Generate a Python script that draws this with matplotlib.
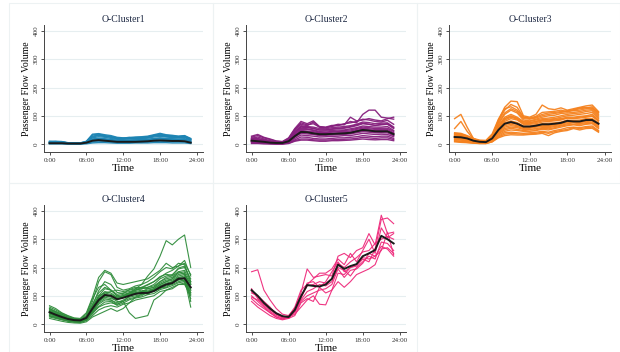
import matplotlib
matplotlib.use("Agg")
import matplotlib.pyplot as plt
from matplotlib.patches import Rectangle

plt.rcParams['font.family'] = ['Liberation Serif', 'DejaVu Serif']

hours = list(range(24))
xtick_pos = [0, 6, 12, 18, 24]
xtick_labels = ['0:00', '06:00', '12:00', '18:00', '24:00']
ytick_pos = [0, 100, 200, 300, 400]

titles = ['O-Cluster1', 'O-Cluster2', 'O-Cluster3', 'O-Cluster4', 'O-Cluster5']
colors = ['#1d84b3', '#86207e', '#f5821f', '#2f8c3b', '#ee2a7b']

# cluster 1 (blue)
c1_lines = [
    [10, 10, 9, 5, 4, 4, 10, 35, 37, 33, 30, 24, 22, 22, 25, 26, 28, 33, 38, 33, 31, 28, 30, 20],
    [8, 9, 7, 4, 3, 3, 8, 28, 32, 28, 25, 20, 20, 21, 22, 22, 25, 30, 32, 29, 27, 25, 27, 18],
    [6, 7, 6, 3, 3, 3, 7, 22, 26, 24, 20, 17, 17, 18, 18, 19, 21, 25, 27, 25, 23, 22, 23, 14],
    [5, 5, 5, 3, 2, 2, 6, 18, 21, 19, 16, 14, 14, 14, 15, 16, 17, 20, 22, 20, 19, 18, 19, 11],
    [4, 4, 4, 2, 2, 2, 5, 14, 16, 15, 13, 11, 11, 11, 12, 12, 14, 16, 18, 16, 15, 14, 15, 9],
    [3, 3, 3, 2, 1, 1, 4, 10, 12, 11, 10, 8, 8, 8, 9, 9, 10, 12, 13, 12, 11, 11, 11, 6],
    [2, 2, 2, 1, 1, 1, 3, 7, 8, 8, 7, 6, 6, 6, 6, 6, 7, 8, 9, 8, 8, 8, 8, 4],
    [1, 1, 1, 0, 0, 0, 1, 4, 5, 5, 4, 3, 3, 3, 4, 4, 4, 5, 5, 5, 4, 4, 4, 2],
    [7, 8, 7, 4, 3, 3, 8, 25, 30, 27, 24, 19, 19, 20, 20, 21, 23, 28, 30, 27, 25, 24, 25, 16],
    [5, 6, 5, 3, 2, 2, 6, 16, 19, 17, 15, 12, 12, 13, 14, 14, 16, 18, 20, 18, 17, 16, 17, 10],
    [9, 8, 8, 4, 3, 4, 9, 32, 35, 30, 27, 22, 21, 24, 23, 24, 26, 31, 35, 31, 29, 27, 29, 17],
]
c1_mean = [3, 3, 3, 2, 2, 2, 5, 12, 14, 12, 10, 8, 8, 8, 8, 9, 10, 12, 13, 12, 11, 11, 10, 5]

# cluster 2 (purple)
c2_lines = [
    [20, 25, 18, 12, 8, 6, 18, 50, 75, 68, 72, 60, 58, 62, 68, 70, 80, 75, 105, 120, 120, 95, 92, 88],
    [25, 30, 22, 16, 10, 8, 20, 52, 70, 65, 78, 60, 58, 64, 70, 68, 95, 82, 85, 90, 85, 82, 90, 95],
    [18, 15, 12, 8, 6, 5, 14, 40, 60, 58, 55, 50, 50, 52, 55, 56, 60, 65, 72, 70, 66, 68, 70, 55],
    [12, 10, 8, 5, 4, 3, 10, 30, 45, 44, 40, 37, 36, 38, 40, 40, 42, 48, 52, 50, 48, 48, 47, 38],
    [8, 7, 5, 3, 2, 2, 6, 20, 32, 30, 28, 25, 26, 27, 28, 30, 30, 34, 38, 36, 34, 35, 34, 26],
    [4, 3, 2, 1, 1, 1, 3, 12, 18, 18, 15, 14, 14, 15, 16, 17, 18, 20, 24, 22, 20, 22, 22, 16],
    [15, 13, 10, 7, 5, 4, 12, 35, 52, 52, 48, 42, 42, 45, 46, 48, 50, 55, 60, 58, 55, 56, 56, 45],
    [10, 8, 6, 4, 3, 3, 8, 25, 38, 36, 34, 30, 31, 32, 33, 34, 36, 40, 44, 42, 40, 40, 40, 30],
    [22, 20, 15, 10, 7, 6, 16, 45, 65, 62, 60, 55, 54, 58, 60, 62, 65, 70, 78, 76, 72, 74, 75, 60],
    [6, 5, 4, 2, 1, 1, 5, 15, 25, 24, 20, 18, 18, 20, 22, 22, 24, 26, 30, 28, 26, 28, 28, 20],
    [14, 12, 9, 6, 4, 4, 11, 32, 48, 46, 44, 40, 40, 42, 44, 44, 46, 52, 56, 54, 52, 52, 52, 40],
    [20, 18, 14, 9, 6, 5, 15, 42, 62, 60, 56, 50, 50, 54, 56, 58, 62, 68, 74, 70, 66, 70, 72, 58],
    [2, 2, 1, 1, 0, 0, 2, 10, 14, 14, 12, 10, 10, 12, 12, 13, 14, 16, 18, 16, 15, 16, 16, 12],
    [16, 14, 11, 7, 5, 4, 13, 38, 56, 54, 50, 45, 46, 48, 50, 50, 54, 58, 64, 62, 60, 60, 62, 48],
    [28, 34, 24, 18, 11, 9, 22, 55, 80, 72, 82, 62, 60, 66, 65, 72, 75, 80, 88, 85, 80, 78, 84, 70],
    [10, 12, 8, 5, 3, 2, 9, 28, 42, 40, 36, 33, 38, 34, 36, 40, 38, 44, 48, 46, 44, 42, 46, 32],
]
c2_mean = [12, 10, 8, 5, 4, 4, 10, 28, 43, 42, 38, 35, 35, 36, 37, 38, 40, 45, 50, 48, 45, 45, 45, 35]

# cluster 3 (orange)
c3_lines = [
    [38, 36, 28, 18, 12, 10, 30, 80, 120, 140, 130, 95, 90, 95, 105, 110, 112, 115, 118, 120, 125, 128, 132, 110],
    [30, 28, 22, 14, 9, 8, 25, 65, 95, 105, 95, 80, 80, 85, 90, 92, 95, 100, 105, 108, 110, 115, 118, 95],
    [22, 20, 16, 10, 6, 5, 18, 45, 65, 70, 65, 58, 58, 62, 65, 65, 68, 72, 80, 80, 78, 82, 85, 70],
    [15, 14, 12, 7, 4, 4, 12, 32, 45, 50, 48, 45, 45, 48, 52, 50, 55, 60, 65, 68, 65, 70, 72, 55],
    [8, 6, 5, 3, 2, 2, 8, 22, 30, 33, 32, 32, 34, 35, 38, 30, 40, 45, 48, 55, 50, 55, 56, 42],
    [28, 26, 20, 12, 8, 7, 22, 55, 80, 90, 85, 70, 70, 72, 78, 80, 82, 85, 92, 90, 92, 95, 98, 82],
    [35, 32, 25, 16, 11, 10, 28, 70, 105, 120, 110, 85, 82, 88, 95, 100, 102, 108, 110, 112, 115, 120, 122, 100],
    [18, 17, 14, 9, 5, 5, 15, 38, 55, 60, 58, 52, 52, 55, 58, 58, 62, 66, 72, 75, 72, 76, 78, 62],
    [26, 25, 20, 13, 8, 7, 20, 52, 75, 82, 76, 64, 64, 68, 72, 74, 75, 78, 85, 84, 85, 90, 90, 76],
    [12, 10, 8, 5, 3, 3, 10, 28, 40, 42, 40, 38, 40, 42, 45, 42, 48, 52, 58, 60, 58, 62, 64, 48],
    [90, 105, 60, 20, 10, 8, 25, 60, 90, 100, 90, 75, 75, 80, 85, 85, 88, 90, 95, 95, 98, 100, 105, 85],
    [55, 80, 45, 18, 10, 8, 22, 55, 85, 95, 88, 72, 72, 76, 82, 82, 85, 88, 92, 92, 95, 98, 100, 82],
    [30, 30, 22, 14, 10, 9, 30, 85, 130, 152, 150, 100, 95, 105, 138, 125, 122, 128, 120, 125, 130, 135, 138, 115],
    [20, 18, 15, 10, 6, 5, 16, 42, 60, 65, 62, 55, 56, 60, 62, 62, 65, 70, 76, 78, 75, 80, 82, 66],
    [32, 30, 24, 15, 10, 9, 26, 62, 90, 98, 92, 78, 76, 80, 86, 88, 90, 95, 100, 102, 105, 108, 112, 90],
    [24, 22, 18, 11, 7, 6, 18, 48, 70, 74, 70, 60, 60, 64, 68, 68, 70, 74, 82, 80, 80, 86, 86, 72],
    [10, 8, 6, 4, 2, 2, 8, 25, 35, 38, 36, 35, 36, 38, 42, 38, 44, 48, 52, 58, 55, 58, 60, 45],
    [36, 34, 26, 17, 12, 11, 32, 75, 110, 125, 115, 90, 88, 92, 100, 105, 108, 112, 115, 118, 120, 125, 128, 105],
    [16, 15, 10, 6, 3, 3, 14, 36, 50, 56, 52, 48, 50, 50, 56, 54, 58, 64, 68, 70, 70, 72, 75, 58],
    [40, 38, 30, 20, 14, 13, 36, 88, 125, 132, 120, 96, 92, 98, 112, 114, 116, 120, 114, 122, 128, 130, 126, 112],
]
c3_mean = [25, 24, 20, 12, 8, 7, 20, 50, 72, 78, 72, 62, 62, 65, 70, 70, 72, 75, 82, 80, 80, 85, 85, 72]

# cluster 4 (green)
c4_lines = [
    [55, 45, 35, 25, 18, 15, 30, 80, 150, 185, 175, 130, 120, 125, 135, 140, 150, 165, 185, 200, 195, 215, 210, 150],
    [30, 25, 18, 12, 8, 6, 15, 45, 80, 95, 90, 85, 95, 105, 110, 115, 120, 125, 140, 150, 160, 175, 180, 140],
    [45, 35, 25, 18, 14, 12, 20, 55, 90, 110, 105, 95, 100, 110, 115, 120, 115, 120, 135, 145, 150, 165, 170, 130],
    [60, 50, 38, 28, 20, 18, 35, 90, 130, 140, 120, 100, 105, 110, 120, 125, 130, 140, 160, 170, 175, 195, 200, 160],
    [35, 28, 20, 15, 10, 10, 18, 40, 60, 70, 75, 70, 80, 90, 95, 105, 110, 115, 125, 135, 140, 150, 155, 110],
    [40, 30, 22, 15, 12, 10, 18, 50, 85, 105, 100, 90, 95, 100, 105, 110, 105, 120, 130, 140, 145, 160, 165, 120],
    [25, 20, 15, 10, 7, 6, 12, 30, 50, 60, 65, 60, 70, 75, 85, 90, 95, 100, 115, 120, 125, 140, 140, 100],
    [50, 40, 30, 22, 16, 15, 25, 60, 100, 125, 120, 100, 95, 105, 110, 115, 125, 130, 145, 155, 160, 185, 175, 125],
    [65, 55, 40, 30, 22, 20, 40, 95, 165, 190, 180, 145, 140, 145, 150, 155, 160, 175, 190, 215, 200, 205, 225, 170],
    [38, 30, 22, 16, 12, 10, 20, 50, 80, 100, 95, 80, 80, 40, 20, 25, 30, 85, 100, 120, 130, 140, 145, 105],
    [20, 15, 10, 6, 4, 3, 8, 25, 35, 45, 55, 45, 55, 75, 95, 100, 115, 120, 130, 130, 145, 160, 150, 90],
    [48, 38, 28, 20, 15, 13, 25, 60, 95, 115, 110, 95, 100, 105, 110, 115, 115, 125, 140, 150, 155, 170, 175, 140],
    [42, 34, 26, 18, 13, 12, 22, 55, 90, 100, 100, 90, 95, 105, 110, 110, 115, 120, 135, 140, 150, 165, 160, 60],
    [30, 22, 16, 12, 9, 8, 16, 40, 70, 85, 85, 75, 85, 95, 100, 105, 110, 120, 130, 140, 145, 155, 160, 120],
    [55, 42, 30, 22, 16, 14, 28, 70, 110, 130, 120, 105, 110, 115, 120, 125, 130, 135, 150, 165, 170, 185, 190, 145],
    [45, 35, 28, 20, 15, 12, 22, 50, 80, 100, 100, 95, 100, 110, 125, 140, 170, 195, 240, 295, 280, 300, 315, 200],
    [35, 28, 22, 16, 12, 11, 20, 45, 75, 90, 85, 70, 80, 100, 120, 130, 140, 150, 165, 180, 190, 205, 215, 175],
    [40, 32, 24, 17, 13, 12, 24, 60, 100, 110, 115, 120, 115, 120, 125, 130, 125, 130, 150, 160, 165, 180, 185, 80],
    [52, 44, 34, 24, 17, 14, 26, 66, 118, 150, 140, 112, 108, 122, 130, 128, 138, 150, 168, 176, 172, 198, 205, 150],
    [28, 24, 17, 11, 8, 7, 14, 36, 62, 78, 80, 66, 74, 86, 92, 96, 104, 108, 122, 128, 136, 146, 150, 112],
]
c4_mean = [42, 33, 25, 18, 14, 13, 22, 55, 85, 103, 100, 88, 93, 100, 107, 110, 110, 117, 130, 140, 145, 160, 162, 130]

# cluster 5 (pink)
c5_lines = [
    [185, 192, 120, 85, 55, 35, 30, 55, 110, 195, 165, 170, 175, 170, 240, 250, 235, 260, 270, 320, 280, 385, 320, 325],
    [125, 90, 65, 45, 30, 22, 20, 30, 75, 90, 80, 130, 110, 120, 180, 175, 200, 205, 230, 220, 265, 370, 375, 355],
    [100, 80, 60, 40, 25, 18, 25, 35, 60, 85, 100, 70, 68, 120, 150, 130, 150, 175, 185, 195, 210, 265, 270, 250],
    [110, 100, 80, 60, 35, 25, 28, 60, 120, 140, 160, 180, 180, 195, 230, 210, 250, 220, 260, 300, 250, 340, 305, 320],
    [90, 70, 55, 40, 25, 18, 30, 50, 90, 145, 150, 130, 150, 185, 220, 185, 200, 210, 235, 230, 240, 275, 265, 240],
    [80, 60, 45, 30, 20, 15, 20, 45, 85, 115, 125, 140, 135, 150, 200, 190, 170, 200, 220, 240, 230, 290, 285, 260],
    [115, 95, 70, 55, 40, 28, 22, 45, 95, 135, 140, 150, 145, 160, 215, 200, 220, 235, 255, 260, 285, 300, 310, 300],
    [95, 85, 70, 50, 35, 25, 28, 40, 80, 100, 110, 120, 125, 140, 195, 165, 190, 195, 215, 250, 240, 260, 325, 245],
]
c5_mean = [120, 100, 75, 55, 38, 28, 25, 50, 98, 138, 135, 133, 140, 160, 210, 195, 205, 212, 240, 250, 262, 312, 300, 285]

all_lines = [c1_lines, c2_lines, c3_lines, c4_lines, c5_lines]
all_means = [c1_mean, c2_mean, c3_mean, c4_mean, c5_mean]
line_w = [1.0, 1.0, 1.0, 0.8, 0.8]

W, H = 620, 352
fig = plt.figure(figsize=(W / 100, H / 100), dpi=100)
fig.patch.set_facecolor('white')

# light panel frames (graph regions)
frames = [(9, 3, 204, 180), (213, 3, 204, 180), (417, 3, 203, 180),
          (9, 183, 204, 169), (213, 183, 204, 169)]
for fx, fy, fw, fh in frames:
    fig.add_artist(Rectangle((fx / W, 1 - (fy + fh) / H), fw / W, fh / H,
                             transform=fig.transFigure, fill=False,
                             edgecolor='#edf2f3', linewidth=0.8))

col_left = [44, 246, 449]
col_width = [159, 160, 162]
row_top = [25, 205]
ax_h = 127

for i in range(5):
    r, c = divmod(i, 3)
    left = col_left[c]
    top = row_top[r]
    ax = fig.add_axes([left / W, 1 - (top + ax_h) / H, col_width[c] / W, ax_h / H])
    for ln in all_lines[i]:
        ax.plot(hours, ln, color=colors[i], linewidth=line_w[i], alpha=0.95)
    ax.plot(hours, all_means[i], color='#1a1a1a', linewidth=1.4)

    ax.set_xlim(-0.9, 25)
    ax.set_ylim(-28, 421)
    ax.set_xticks(xtick_pos)
    ax.set_xticklabels(xtick_labels)
    ax.set_yticks(ytick_pos)
    ax.set_yticklabels([str(v) for v in ytick_pos], rotation=90, va='center')
    ax.tick_params(axis='both', labelsize=5, length=2.5, width=0.6,
                   colors='#333333', pad=1.5)
    ax.grid(axis='y', color='#e6eef0', linewidth=0.8)
    ax.set_axisbelow(True)
    for s in ['top', 'right']:
        ax.spines[s].set_visible(False)
    for s in ['left', 'bottom']:
        ax.spines[s].set_color('#444444')
        ax.spines[s].set_linewidth(0.7)
    ax.set_title(titles[i], fontsize=7, color='#1f2a44', pad=2)
    ax.set_xlabel('Time', fontsize=8, labelpad=1)
    ax.set_ylabel('Passenger Flow Volume', fontsize=7, labelpad=2)

fig.savefig('out.png', dpi=100, facecolor='white')
